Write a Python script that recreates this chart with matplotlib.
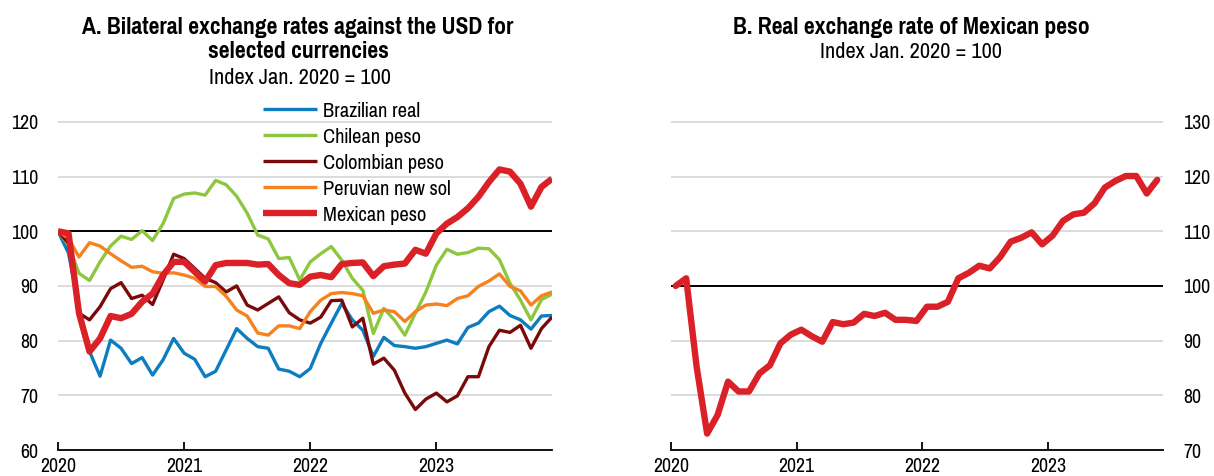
import matplotlib
matplotlib.use("Agg")
import matplotlib.pyplot as plt
from matplotlib import font_manager

# pick a narrow font, the chart uses an Arial Narrow look
names = set(f.name for f in font_manager.fontManager.ttflist)
FONT = 'Liberation Sans'
for cand in ['Arial Narrow', 'Liberation Sans Narrow', 'Pragati Narrow', 'PT Sans Narrow',
		'Roboto Condensed', 'Archivo Narrow']:
	if cand in names:
		FONT = cand
		break
scale = 1.0 if FONT != 'Liberation Sans' else 0.86
FS_TICK = 15.5 * scale
FS_LEG = 16 * scale
FS_SUB = 17.5 * scale
FS_TITLE = 18.5 * scale
plt.rcParams['font.family'] = [FONT, 'DejaVu Sans']

years = ['2020', '2021', '2022', '2023']

# panel A, monthly, Jan 2020 - Dec 2023, index Jan 2020 = 100
brazil = [100, 96, 86, 78, 73.5, 80.1, 78.6, 75.8, 76.9, 73.7, 76.5, 80.4,
	77.7, 76.6, 73.4, 74.4, 78.3, 82.2, 80.4, 78.9, 78.6, 74.8, 74.4, 73.4,
	74.9, 79.5, 83.2, 86.8, 83.8, 81.9, 77.1, 80.6, 79.1, 78.9, 78.6, 78.9,
	79.5, 80.1, 79.4, 82.4, 83.2, 85.3, 86.3, 84.6, 83.8, 82.1, 84.5, 84.6]
chile = [100, 97.5, 92.3, 91.0, 94.4, 97.3, 99.1, 98.5, 100.1, 98.3, 101.4, 106.0,
	106.8, 107.0, 106.6, 109.3, 108.5, 106.4, 103.3, 99.3, 98.6, 95.0, 95.2, 91.1,
	94.4, 95.9, 97.2, 94.7, 91.4, 89.2, 81.3, 85.9, 83.8, 81.0, 85.0, 88.9,
	93.8, 96.7, 95.8, 96.1, 96.9, 96.8, 94.8, 90.5, 87.4, 83.8, 87.5, 88.5]
colombia = [100, 97.8, 85.0, 83.8, 86.2, 89.5, 90.6, 87.7, 88.3, 86.6, 91.1, 95.8,
	95.0, 93.2, 91.4, 90.6, 88.9, 90.0, 86.5, 85.6, 86.8, 88.0, 85.1, 83.8,
	83.2, 84.3, 87.3, 87.4, 82.5, 84.1, 75.7, 76.8, 74.6, 70.4, 67.4, 69.3,
	70.4, 68.8, 69.9, 73.4, 73.4, 78.9, 81.9, 81.5, 82.8, 78.6, 82.2, 84.3]
peru = [100, 98.7, 95.3, 97.9, 97.3, 95.9, 94.6, 93.4, 93.6, 92.6, 92.3, 92.4,
	92.0, 91.4, 89.9, 89.9, 88.1, 85.6, 84.5, 81.4, 81.0, 82.7, 82.7, 82.2,
	85.3, 87.4, 88.6, 88.8, 88.6, 88.2, 85.0, 85.6, 85.3, 83.5, 85.3, 86.5,
	86.7, 86.4, 87.7, 88.2, 89.9, 90.9, 92.2, 89.9, 89.1, 86.5, 88.2, 88.9]
mexico = [100, 99.6, 85.0, 78.0, 80.4, 84.5, 84.1, 84.9, 87.1, 88.6, 92.0, 94.4,
	94.4, 92.6, 90.8, 93.8, 94.2, 94.2, 94.2, 93.9, 94.0, 92.0, 90.5, 90.2,
	91.7, 92.0, 91.6, 94.0, 94.2, 94.3, 91.8, 93.6, 93.9, 94.1, 96.6, 95.9,
	99.6, 101.4, 102.6, 104.2, 106.3, 109.0, 111.3, 110.9, 108.7, 104.5, 108.1, 109.6]

# panel B, real exchange rate, Jan 2020 - Nov 2023
mex_real = [100, 101.4, 85.2, 73.0, 76.4, 82.5, 80.7, 80.7, 84.0, 85.5, 89.5, 91.1,
	92.0, 90.8, 89.8, 93.4, 93.0, 93.3, 94.9, 94.5, 95.1, 93.8, 93.8, 93.6,
	96.2, 96.2, 97.1, 101.4, 102.4, 103.7, 103.2, 105.3, 108.1, 108.8, 109.8, 107.6,
	109.2, 111.9, 113.1, 113.4, 115.1, 118.0, 119.2, 120.1, 120.1, 116.9, 119.4]

series = [
	('Brazilian real', brazil, '#0D7CC1', 2.4),
	('Chilean peso', chile, '#8DC63F', 2.4),
	('Colombian peso', colombia, '#7A0A0A', 2.4),
	('Peruvian new sol', peru, '#F5821F', 2.4),
	('Mexican peso', mexico, '#DA2128', 4.6),
]

fig = plt.figure(figsize=(12.14, 4.76), dpi=100)
ax1 = fig.add_axes([58/1214, 1-450/476, 494/1214, 350/476])
ax2 = fig.add_axes([671/1214, 1-450/476, 492/1214, 350/476])


def style(ax, lo, side):
	ax.set_xlim(0, 47)
	ax.set_ylim(lo, lo + 64)
	ax.set_yticks(range(lo, lo + 61, 10))
	ax.set_xticks([0, 12, 24, 36])
	ax.set_xticklabels(years)
	for s in ['top', 'left', 'right']:
		ax.spines[s].set_visible(False)
	ax.spines['bottom'].set_linewidth(1.3)
	ax.spines['bottom'].set_bounds(0, 47)
	ax.grid(axis='y', color='#D9D9D9', lw=1.3, zorder=0)
	ax.set_axisbelow(True)
	ax.tick_params(axis='x', direction='in', length=6, width=1.3, labelsize=FS_TICK, pad=5)
	ax.tick_params(axis='y', length=0, labelsize=FS_TICK, pad=14)
	if side == 'right':
		ax.yaxis.tick_right()
		ax.tick_params(axis='y', length=0, pad=14.5)
	ax.axhline(100, color='black', lw=1.4, zorder=1)


style(ax1, 60, 'left')
style(ax2, 70, 'right')

months = list(range(48))
for name, vals, col, lw in series:
	ax1.plot(months, vals, color=col, lw=lw, label=name, zorder=3,
		solid_joinstyle='round', solid_capstyle='butt')

ax1.legend(loc='upper left', bbox_to_anchor=(263/1214, 1-101/476),
	bbox_transform=fig.transFigure, frameon=False, fontsize=FS_LEG,
	handlelength=2.43, handletextpad=0.26, labelspacing=0.29, borderpad=0,
	borderaxespad=0)

xb = [i + 0.45 for i in range(len(mex_real))]
ax2.plot(xb, mex_real, color='#DA2128', lw=4.6, zorder=3,
	solid_joinstyle='round', solid_capstyle='round')

fig.text(298/1214, 1-27/476, 'A. Bilateral exchange rates against the USD for',
	ha='center', va='center', fontsize=FS_TITLE, fontweight='bold')
fig.text(298/1214, 1-51/476, 'selected currencies',
	ha='center', va='center', fontsize=FS_TITLE, fontweight='bold')
fig.text(300/1214, 1-78/476, 'Index Jan. 2020 = 100',
	ha='center', va='center', fontsize=FS_SUB)
fig.text(911/1214, 1-27/476, 'B. Real exchange rate of Mexican peso',
	ha='center', va='center', fontsize=FS_TITLE, fontweight='bold')
fig.text(911/1214, 1-52/476, 'Index Jan. 2020 = 100',
	ha='center', va='center', fontsize=FS_SUB)

fig.savefig('out.png', dpi=100)
